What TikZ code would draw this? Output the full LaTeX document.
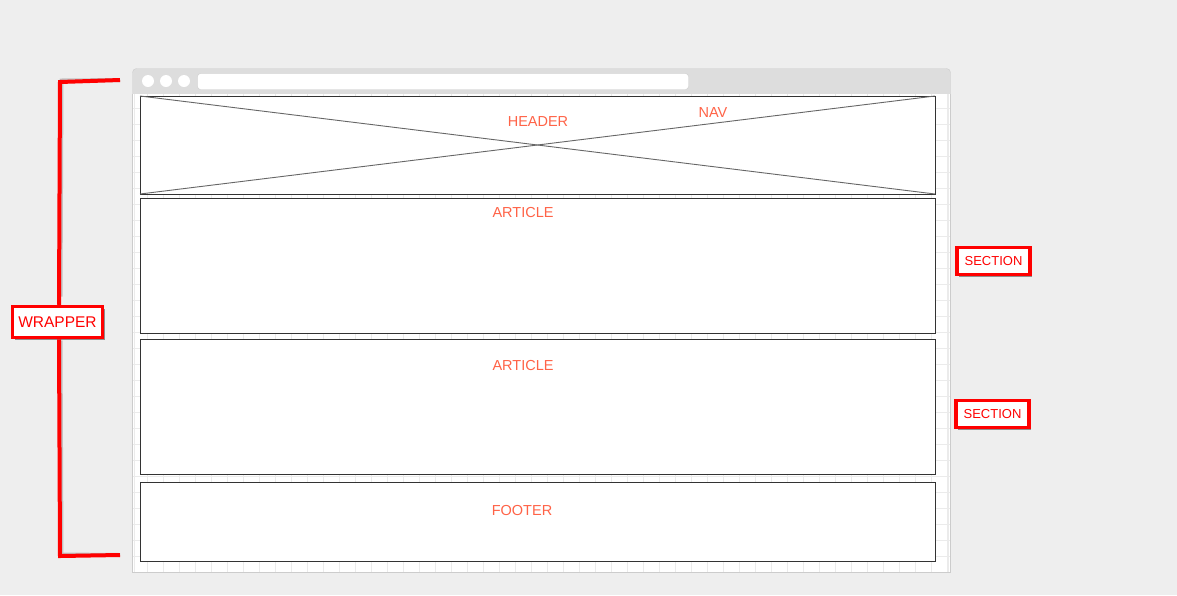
\documentclass[tikz,border=0pt]{standalone}
\usepackage{fontspec}
\setmainfont{Liberation Sans}
\usetikzlibrary{shadows}
\definecolor{bg}{HTML}{EEEEEE}
\definecolor{chrome}{HTML}{DDDDDD}
\definecolor{chromeline}{HTML}{CCCCCC}
\definecolor{gridc}{HTML}{EBEBEB}
\definecolor{boxline}{HTML}{333333}
\definecolor{lbl}{HTML}{FF6347}
\definecolor{redc}{HTML}{FF0000}
\begin{document}
\begin{tikzpicture}[x=1pt,y=-1pt,
  wire/.style={draw=boxline,line width=1pt,fill=white,inner sep=0pt,outer sep=0pt,anchor=north west},
  lbltext/.style={text=lbl,font=\fontsize{14.5}{16}\selectfont,inner sep=0pt},
  redbox/.style={draw=redc,line width=3.5pt,fill=white,text=redc,inner sep=0pt,
     drop shadow={shadow xshift=2pt,shadow yshift=-2pt,opacity=0.4,fill=black}},
  bracket/.style={draw=redc,line width=4pt,line cap=butt,line join=miter}]
\useasboundingbox (0,0) rectangle (1177,595);
\fill[bg] (0,0) rectangle (1177,595);
% browser chrome
\draw[chromeline,fill=chrome,rounded corners=4pt] (132.5,94) -- (132.5,68.5) -- (950.5,68.5) -- (950.5,94);
\fill[chrome] (133,80) rectangle (950,94);
\node[circle,fill=white,minimum size=12pt,inner sep=0pt] (c1) at (148,81) {};
\node[circle,fill=white,minimum size=12pt,inner sep=0pt] (c2) at (166,81) {};
\node[circle,fill=white,minimum size=12pt,inner sep=0pt] (c3) at (184,81) {};
\draw[chromeline,fill=white,rounded corners=3pt] (197.5,73.5) rectangle (688.5,89.5);
% page
\fill[white] (133,94) rectangle (950,572);
\foreach \gx in {147,163,...,947} \draw[gridc,line width=1pt] (\gx,94) -- (\gx,572);
\foreach \gy in {108,124,...,572} \draw[gridc,line width=1pt] (133,\gy) -- (950,\gy);
\draw[chromeline,line width=1pt] (132.5,94) -- (132.5,572.5) -- (950.5,572.5) -- (950.5,94);
\draw[gridc,line width=1pt] (134.5,94) -- (134.5,572);
\draw[gridc,line width=1pt] (948.5,94) -- (948.5,572);
% boxes
\node[wire,minimum width=795pt,minimum height=98pt] (header) at (140,96) {};
\draw[boxline!75,line width=0.9pt] (header.north west) -- (header.south east);
\draw[boxline!75,line width=0.9pt] (header.south west) -- (header.north east);
\node[wire,minimum width=795pt,minimum height=135pt] (art1) at (140,198) {};
\node[wire,minimum width=795pt,minimum height=135pt] (art2) at (140,339) {};
\node[wire,minimum width=795pt,minimum height=79pt] (footer) at (140,482) {};
\node[lbltext] (th) at (538,122) {HEADER};
\node[lbltext] (tn) at (713,113) {NAV};
\node[lbltext] (ta1) at (523,213) {ARTICLE};
\node[lbltext] (ta2) at (523,365) {ARTICLE};
\node[lbltext] (tf) at (522,510) {FOOTER};
% red labels
\node[redbox,minimum width=90pt,minimum height=31pt,font=\fontsize{15.5}{17}\selectfont] (wrap) at (57.5,322) {WRAPPER};
\node[redbox,minimum width=73pt,minimum height=27pt,font=\fontsize{13}{15}\selectfont] (s1) at (993.5,261) {SECTION};
\node[redbox,minimum width=73pt,minimum height=27pt,font=\fontsize{13}{15}\selectfont] (s2) at (992.5,414) {SECTION};
% bracket
\coordinate (bt) at (120,80);
\coordinate (bb) at (120,555);
\draw[bracket,black!35,opacity=0.6,shift={(1.5,-1.5)}] (bt) -- (60,82) -- (59,298);
\draw[bracket,black!35,opacity=0.6,shift={(1.5,-1.5)}] (59,342) -- (60,556) -- (bb);
\draw[bracket] (bt) -- (60,82) -- (wrap.north -| 59,0);
\draw[bracket] (wrap.south -| 59,0) -- (60,556) -- (bb);
\end{tikzpicture}
\end{document}
